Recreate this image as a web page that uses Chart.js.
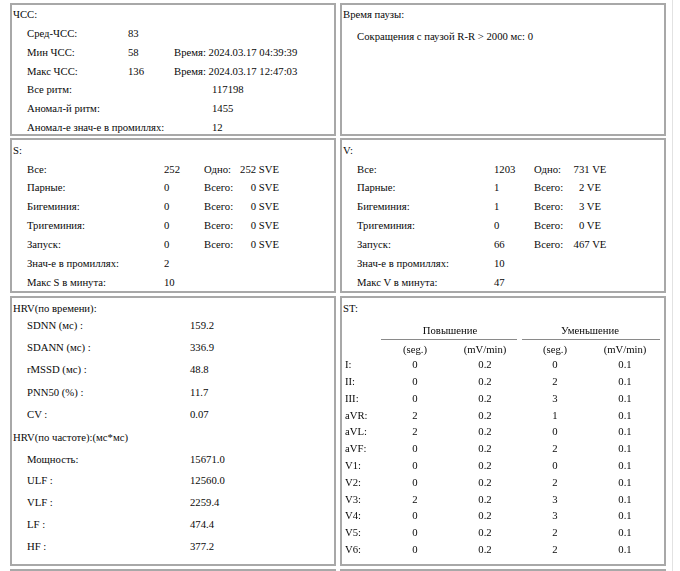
<!DOCTYPE html>
<html>
<head>
<meta charset="utf-8">
<script src="https://cdn.jsdelivr.net/npm/chart.js@4.4.1/dist/chart.umd.min.js"></script>
<style>
  html, body { margin: 0; padding: 0; background: #fff; }
  body { width: 680px; height: 571px; overflow: hidden; position: relative;
         font-family: "Liberation Serif", "Times New Roman", serif; font-size: 10.7px; color: #0a0a0a; }
  .box { position: absolute; box-sizing: border-box; border: 2px solid #a8a8a8; background: #fff; }
  .t { position: absolute; white-space: nowrap; line-height: 1.15; }
  #stWrap { position: absolute; left: 345px; top: 322px; width: 315px; height: 243px; }
  .edge { position: absolute; left: 672px; top: 0; width: 1px; height: 571px; background: #e2e2e2; }
</style>
</head>
<body>
<div class="edge"></div>
<div id="stWrap"><canvas id="stChart"></canvas></div>
<script>
// ЧСС
const hrLabels = ['Сред-ЧСС:', 'Мин ЧСС:', 'Макс ЧСС:'];
const hrValues = [83, 58, 136];
const hrTimes = ['', '2024.03.17 04:39:39', '2024.03.17 12:47:03'];
const beatLabels = ['Все ритм:', 'Аномал-й ритм:', 'Аномал-е знач-е в промиллях:'];
const beatValues = [117198, 1455, 12];

// Время паузы
const pauseLimitMs = 2000;
const pauseCount = 0;

// S / V
const ectopicLabels = ['Все:', 'Парные:', 'Бигеминия:', 'Тригеминия:', 'Запуск:'];
const ectopicTotalLabels = ['Одно:', 'Всего:', 'Всего:', 'Всего:', 'Всего:'];
const sCounts = [252, 0, 0, 0, 0];
const sBeats = [252, 0, 0, 0, 0];
const sPermille = 2;
const sMaxPerMin = 10;
const vCounts = [1203, 1, 1, 0, 66];
const vBeats = [731, 2, 3, 0, 467];
const vPermille = 10;
const vMaxPerMin = 47;

// HRV
const hrvTimeLabels = ['SDNN (мс) :', 'SDANN (мс) :', 'rMSSD (мс) :', 'PNN50 (%) :', 'CV :'];
const hrvTimeValues = [159.2, 336.9, 48.8, 11.7, 0.07];
const hrvTimeDigits = [1, 1, 1, 1, 2];
const hrvFreqLabels = ['Мощность:', 'ULF :', 'VLF :', 'LF :', 'HF :'];
const hrvFreqValues = [15671.0, 12560.0, 2259.4, 474.4, 377.2];

// ST
const leads = ['I', 'II', 'III', 'aVR', 'aVL', 'aVF', 'V1', 'V2', 'V3', 'V4', 'V5', 'V6'];
const stGroups = ['Повышение', 'Уменьшение'];
const stColumns = ['riseSeg', 'riseRate', 'fallSeg', 'fallRate'];
const stColumnTicks = ['(seg.)', '(mV/min)', '(seg.)', '(mV/min)'];
const riseSeg = [0, 0, 0, 2, 2, 0, 0, 0, 2, 0, 0, 0];
const riseRate = [0.2, 0.2, 0.2, 0.2, 0.2, 0.2, 0.2, 0.2, 0.2, 0.2, 0.2, 0.2];
const fallSeg = [0, 2, 3, 1, 0, 2, 0, 2, 3, 3, 2, 2];
const fallRate = [0.1, 0.1, 0.1, 0.1, 0.1, 0.1, 0.1, 0.1, 0.1, 0.1, 0.1, 0.1];

function box(left, top, right, bottom) {
    const d = document.createElement('div');
    d.className = 'box';
    d.style.left = left + 'px';
    d.style.top = top + 'px';
    d.style.width = (right - left) + 'px';
    d.style.height = (bottom - top) + 'px';
    document.body.insertBefore(d, document.getElementById('stWrap'));
}

function put(str, x, y, align) {
    const d = document.createElement('div');
    d.className = 't';
    d.textContent = str;
    d.style.left = x + 'px';
    d.style.top = y + 'px';
    let tx = '0';
    if (align === 'right') tx = '-100%';
    if (align === 'center') tx = '-50%';
    d.style.transform = 'translate(' + tx + ', -50%)';
    document.body.appendChild(d);
}

box(10, 3, 336, 136);
box(340, 3, 666, 136);
box(10, 138, 336, 293);
box(340, 138, 666, 293);
box(10, 296, 336, 566);
box(340, 296, 666, 566);
box(10, 569, 336, 640);
box(340, 569, 666, 640);

// ЧСС box
put('ЧСС:', 13, 14);
hrLabels.forEach((l, i) => {
    const y = 33 + i * 18.8;
    put(l, 27, y);
    put(String(hrValues[i]), 128, y);
    if (hrTimes[i]) put('Время: ' + hrTimes[i], 174, y);
});
beatLabels.forEach((l, i) => {
    const y = 33 + (i + 3) * 18.8;
    put(l, 27, y);
    put(String(beatValues[i]), 212, y);
});

// pause box
put('Время паузы:', 343, 14);
put('Сокращения с паузой R-R > ' + pauseLimitMs + ' мс: ' + pauseCount, 357, 35.5);

// S / V boxes
function ectopic(x0, title, counts, beats, unit, permille, maxPerMin, unitRight, unitAlign) {
    put(title + ':', x0 + 3, 150);
    ectopicLabels.forEach((l, i) => {
        const y = 168.5 + i * 18.85;
        put(l, x0 + 17, y);
        put(String(counts[i]), x0 + 154, y);
        put(ectopicTotalLabels[i], x0 + 194, y);
        put(beats[i] + ' ' + unit, unitRight, y, unitAlign);
    });
    put('Знач-е в промиллях:', x0 + 17, 168.5 + 5 * 18.85);
    put(String(permille), x0 + 154, 168.5 + 5 * 18.85);
    put('Макс ' + title + ' в минута:', x0 + 17, 168.5 + 6 * 18.85);
    put(String(maxPerMin), x0 + 154, 168.5 + 6 * 18.85);
}
ectopic(10, 'S', sCounts, sBeats, 'SVE', sPermille, sMaxPerMin, 279, 'right');
ectopic(340, 'V', vCounts, vBeats, 'VE', vPermille, vMaxPerMin, 590, 'center');

// HRV box
put('HRV(по времени):', 13, 308);
hrvTimeLabels.forEach((l, i) => {
    const y = 325 + i * 22.2;
    put(l, 27, y);
    put(hrvTimeValues[i].toFixed(hrvTimeDigits[i]), 190, y);
});
put('HRV(по частоте):(мс*мс)', 13, 436.5);
hrvFreqLabels.forEach((l, i) => {
    const y = 458.5 + i * 21.9;
    put(l, 27, y);
    put(hrvFreqValues[i].toFixed(1), 190, y);
});

// ST box
put('ST:', 343, 308);

const stSeries = [riseSeg, riseRate, fallSeg, fallRate];
const stDigits = [0, 1, 0, 1];

const cellText = {
    id: 'cellText',
    afterDatasetsDraw(chart) {
        const ctx = chart.ctx;
        const xs = chart.scales.x;
        const top = chart.chartArea.top;
        ctx.save();
        ctx.font = '10.7px "Liberation Serif", serif';
        ctx.fillStyle = '#0a0a0a';
        ctx.textAlign = 'center';
        ctx.textBaseline = 'middle';
        chart.data.datasets.forEach((ds, c) => {
            chart.getDatasetMeta(c).data.forEach((el, i) => {
                ctx.fillText(ds.data[i].v.toFixed(stDigits[c]), el.x, el.y);
            });
        });
        // group headings over column pairs
        const step = xs.getPixelForValue(1) - xs.getPixelForValue(0);
        stGroups.forEach((g, k) => {
            const a = xs.getPixelForValue(k * 2);
            const b = xs.getPixelForValue(k * 2 + 1);
            ctx.fillText(g, (a + b) / 2, top - 25.5);
            ctx.strokeStyle = '#8a8a8a';
            ctx.lineWidth = 1;
            ctx.beginPath();
            ctx.moveTo(a - step / 2 + (k ? 2 : 1), top - 17.5);
            ctx.lineTo(b + step / 2 - (k ? 0 : 3), top - 17.5);
            ctx.stroke();
        });
        ctx.restore();
    }
};

Chart.defaults.font.family = '"Liberation Serif", serif';
Chart.defaults.font.size = 10.7;
Chart.defaults.color = '#0a0a0a';

new Chart(document.getElementById('stChart'), {
    type: 'scatter',
    data: {
        datasets: stSeries.map((vals, c) => ({
            data: leads.map((l, i) => ({ x: stColumns[c], y: l, v: vals[i] })),
            pointRadius: 0,
            pointHoverRadius: 0
        }))
    },
    options: {
        responsive: true,
        maintainAspectRatio: false,
        animation: false,
        events: [],
        layout: { padding: 0 },
        plugins: { legend: { display: false }, tooltip: { enabled: false } },
        scales: {
            x: {
                type: 'category',
                position: 'top',
                labels: stColumns,
                offset: true,
                grid: { display: false, drawTicks: false },
                border: { display: false },
                ticks: {
                    autoSkip: false, maxRotation: 0, padding: 0,
                    callback: (v, i) => stColumnTicks[i]
                },
                afterFit: (s) => { s.height = 35; }
            },
            y: {
                type: 'category',
                labels: leads,
                offset: true,
                grid: { display: false, drawTicks: false },
                border: { display: false },
                ticks: {
                    autoSkip: false, padding: 0, crossAlign: 'far',
                    callback: (v, i) => leads[i] + ':'
                },
                afterFit: (s) => { s.width = 35; }
            }
        }
    },
    plugins: [cellText]
});
</script>
</body>
</html>
